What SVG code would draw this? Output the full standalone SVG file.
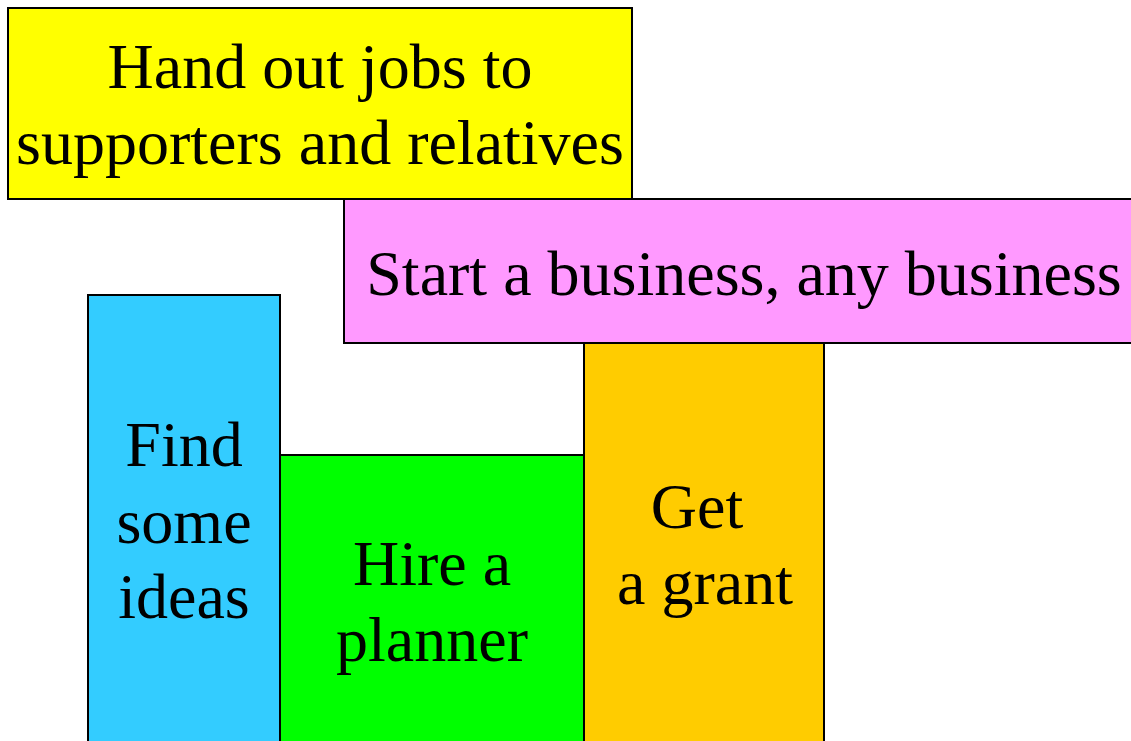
<svg xmlns="http://www.w3.org/2000/svg" width="1131" height="741" viewBox="0 0 1131 741">
<style>
.box{stroke:#000;stroke-width:2}
.t{font-family:"Liberation Serif","Times New Roman",serif;font-size:64px;fill:#000;text-anchor:middle}
</style>
<rect width="1131" height="741" fill="#fff"/>
<g id="connectors"></g>
<g id="jobs">
<rect class="box" x="8" y="8" width="624" height="191" fill="#ffff00"/>
<text class="t" x="320" y="88">Hand out jobs to</text>
<text class="t" x="320" y="164">supporters and relatives</text>
</g>
<g id="business">
<rect class="box" x="344" y="199" width="800" height="144" fill="#ff99ff"/>
<text class="t" x="744" y="295">Start a business, any business</text>
</g>
<g id="ideas">
<rect class="box" x="88" y="295" width="192" height="460" fill="#33ccff"/>
<text class="t" x="184" y="466">Find</text>
<text class="t" x="184" y="543">some</text>
<text class="t" x="184" y="618">ideas</text>
</g>
<g id="planner">
<rect class="box" x="280" y="455" width="304" height="300" fill="#00ff00"/>
<text class="t" x="432" y="585">Hire a</text>
<text class="t" x="432" y="661">planner</text>
</g>
<g id="grant">
<rect class="box" x="584" y="343" width="240" height="412" fill="#ffcc00"/>
<text class="t" x="697" y="528">Get</text>
<text class="t" x="705" y="604">a grant</text>
</g>
</svg>
